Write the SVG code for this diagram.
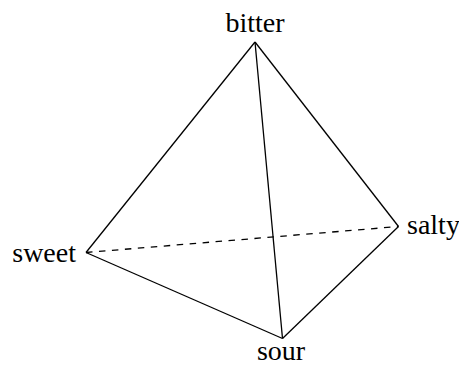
<svg xmlns="http://www.w3.org/2000/svg" width="459" height="365" viewBox="0 0 459 365">
<style>
text{font-family:"Liberation Serif","Times New Roman",serif;font-size:28px;fill:#000}
.e{stroke:#000;stroke-width:1.3;fill:none}
.d{stroke-dasharray:6.5 6.5}
</style>
<rect width="459" height="365" fill="#fff"/>
<g id="connectors">
<line class="e" x1="255" y1="42" x2="86" y2="252.5"/>
<line class="e" x1="255" y1="42" x2="398.5" y2="226.5"/>
<line class="e" x1="255" y1="42" x2="282.5" y2="338.5"/>
<line class="e" x1="86" y1="252.5" x2="282.5" y2="338.5"/>
<line class="e" x1="398.5" y1="226.5" x2="282.5" y2="338.5"/>
<line class="e d" x1="86" y1="252.5" x2="398.5" y2="226.5"/>
</g>
<g id="bitter"><text x="255" y="32" text-anchor="middle">bitter</text></g>
<g id="sweet"><text x="76" y="262" text-anchor="end">sweet</text></g>
<g id="salty"><text x="407" y="234">salty</text></g>
<g id="sour"><text x="281" y="360" text-anchor="middle">sour</text></g>
</svg>
